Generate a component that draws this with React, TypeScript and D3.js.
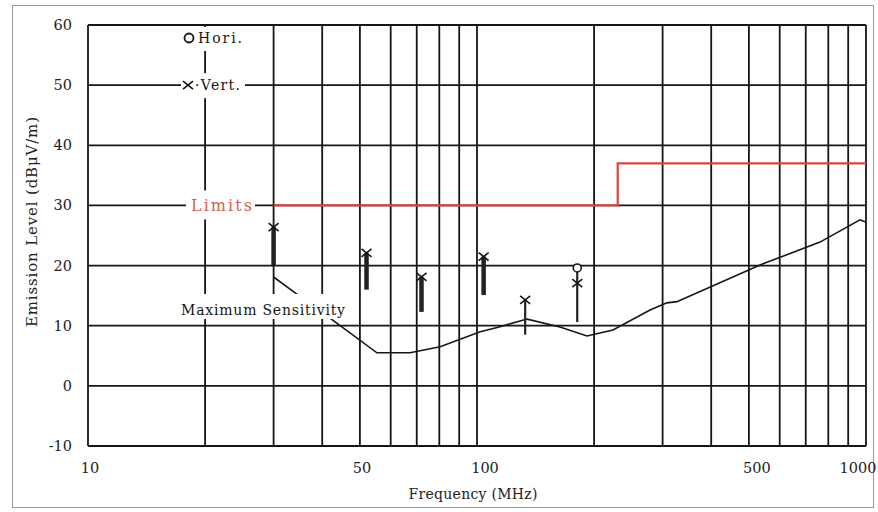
import * as d3 from 'd3';

// Maximum sensitivity curve (MHz, dBuV/m)
const sensFreq = [30, 34.7, 42.4, 55.3, 67.3, 80.4, 101.9, 114, 134.5, 163.4, 191.7, 223.7, 278.4, 307.8, 326.6, 534, 761.6, 965, 994];
const sensLevel = [18.1, 15.1, 11.0, 5.5, 5.5, 6.5, 9.0, 9.8, 11.1, 9.8, 8.3, 9.3, 12.6, 13.8, 14.0, 20.1, 23.9, 27.6, 27.3];

// Limit line (step)
const limitFreq = [30, 230, 230, 1000];
const limitLevel = [30, 30, 37, 37];

// Vertical polarisation readings
const vertFreq = [30, 52, 72, 104, 133, 181];
const vertLevel = [26.4, 22.1, 18.1, 21.5, 14.3, 17.1];
const stemLow = [20.1, 16.0, 12.3, 15.1, 8.5, 10.6];
const stemKind = ['wide', 'wide', 'wide', 'wide', 'narrow', 'narrow'];

// Horizontal polarisation readings
const horiFreq = [181];
const horiLevel = [19.6];

const yTicks = [-10, 0, 10, 20, 30, 40, 50, 60];
const xTickLabels = [10, 50, 100, 500, 1000];

const width = 878;
const height = 512;
const margin = { top: 25, right: 12, bottom: 66, left: 88 };
const font = '"DejaVu Serif", serif';
const ink = '#161616';

export default function App() {
  const x = d3.scaleLog().domain([10, 1000]).range([margin.left, width - margin.right]);
  const y = d3.scaleLinear().domain([-10, 60]).range([height - margin.bottom, margin.top]);

  const line = d3.line<number>().x((_, i) => x(sensFreq[i])).y(d => y(d));
  const limitLine = d3.line<number>().x((_, i) => x(limitFreq[i])).y(d => y(d));

  const x0 = x(10), x1 = x(1000), y0 = y(-10), y1 = y(60);

  const cross = (cx: number, cy: number, k: string) => (
    <g key={k} stroke={ink} strokeWidth={1.6}>
      <line x1={cx - 5} y1={cy - 4} x2={cx + 5} y2={cy + 4} />
      <line x1={cx - 5} y1={cy + 4} x2={cx + 5} y2={cy - 4} />
    </g>
  );

  return (
    <svg width={width} height={height} style={{ position: 'absolute', left: 0, top: 0, background: '#fff' }}
      fontFamily={font}>
      <rect x={12.5} y={5.5} width={861} height={502} fill="none" stroke="#9a9a9a" strokeWidth={1} />

      {/* grid */}
      <g stroke={ink} strokeWidth={1.8}>
        {x.ticks().map(f => (
          <line key={'v' + f} x1={x(f)} x2={x(f)} y1={y1} y2={y0} />
        ))}
        {yTicks.map(t => (
          <line key={'h' + t} x1={x0} x2={x1} y1={y(t)} y2={y(t)} />
        ))}
      </g>

      {/* maximum sensitivity */}
      <path d={line(sensLevel) || ''} fill="none" stroke={ink} strokeWidth={1.6} />

      {/* limits */}
      <path d={limitLine(limitLevel) || ''} fill="none" stroke="#e0443e" strokeWidth={2.2} />

      {/* stems */}
      {vertFreq.map((f, i) => (
        <line key={'s' + i} x1={x(f)} x2={x(f)} y1={y(vertLevel[i])} y2={y(stemLow[i])}
          stroke="#222" strokeWidth={stemKind[i] === 'wide' ? 4.5 : 2.2} />
      ))}
      {horiFreq.map((f, i) => (
        <line key={'hs' + i} x1={x(f)} x2={x(f)} y1={y(horiLevel[i])} y2={y(vertLevel[vertFreq.indexOf(f)])}
          stroke="#222" strokeWidth={2.2} />
      ))}
      {vertFreq.map((f, i) => cross(x(f), y(vertLevel[i]), 'c' + i))}
      {horiFreq.map((f, i) => (
        <circle key={'o' + i} cx={x(f)} cy={y(horiLevel[i])} r={4} fill="#fff" stroke={ink} strokeWidth={1.6} />
      ))}

      {/* legend */}
      <rect x={180} y={y1 + 2} width={66} height={24} fill="#fff" />
      <circle cx={189} cy={38} r={4.5} fill="none" stroke={ink} strokeWidth={1.8} />
      <text x={198} y={43} fontSize={14} textLength={44} fill={ink}>Hori.</text>

      <rect x={181} y={y(50) - 12} width={64} height={25} fill="#fff" />
      {cross(188, y(50), 'lv')}
      <text x={195} y={y(50) + 5} fontSize={14} textLength={45} fill={ink}>·Vert.</text>

      <rect x={186} y={y(30) - 15} width={69} height={29} fill="#fff" />
      <text x={191} y={y(30) + 6} fontSize={16} textLength={61} fill="#d45f57">Limits</text>

      <rect x={180} y={294} width={167} height={25} fill="#fff" />
      <text x={181} y={315} fontSize={14} textLength={164} fill={ink}>Maximum Sensitivity</text>

      {/* y ticks */}
      {yTicks.map(t => (
        <text key={'yt' + t} x={72} y={y(t) + 5} fontSize={14.5} textAnchor="end" fill="#222">{t}</text>
      ))}
      {/* x ticks */}
      {xTickLabels.map(t => (
        <text key={'xt' + t} x={t === 1000 ? x(t) - 8 : x(t) + (t >= 100 ? 8 : 2)} y={473} fontSize={14.5}
          textAnchor="middle" fill="#222">{t}</text>
      ))}

      <text x={473} y={499} fontSize={14} textLength={129} textAnchor="middle" fill="#222">Frequency (MHz)</text>
      <text transform={`translate(37,${222}) rotate(-90)`} fontSize={15} textLength={210} textAnchor="middle" fill="#222">
        Emission Level (dBμV/m)
      </text>
    </svg>
  );
}
